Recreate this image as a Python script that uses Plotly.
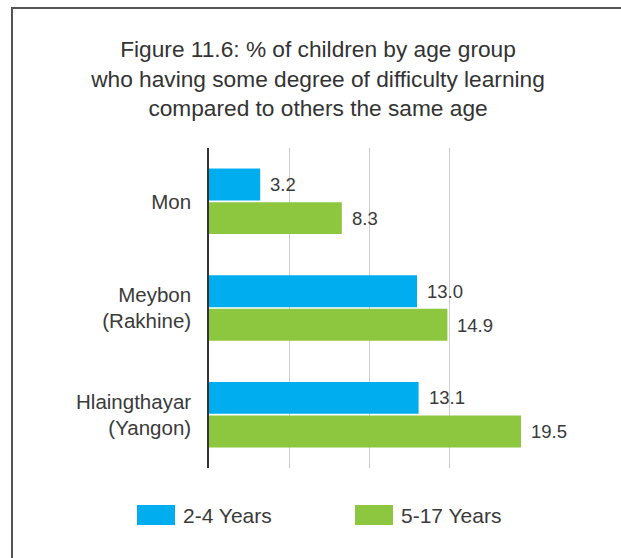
import plotly.graph_objects as go

# Data
regions = ["Mon", "Meybon<br>(Rakhine)", "Hlaingthayar<br>(Yangon)"]
age_groups = ["2-4 Years", "5-17 Years"]
pct_2_4 = [3.2, 13.0, 13.1]
pct_5_17 = [8.3, 14.9, 19.5]
x_ticks = [0, 5, 10, 15, 20]

colors = ["#00AEEF", "#8DC63F"]
series = [pct_2_4, pct_5_17]

W, H = 621, 558
ML, MR, MT, MB = 209, 92, 148, 90
PW, PH = W - ML - MR, H - MT - MB
FONT = "Liberation Sans, Arial, Helvetica, sans-serif"
TXT = "#3a3a3a"


def px_x(px):
    return (px - ML) / PW


def px_y(py):
    return 1 - (py - MT) / PH


fig = go.Figure()
for name, vals, col in zip(age_groups, series, colors):
    fig.add_trace(go.Bar(
        y=regions, x=vals, name=name, orientation="h",
        marker=dict(color=col, line=dict(width=0)),
        showlegend=False, hoverinfo="x+y",
    ))

# Value labels to the right of each bar
annotations = []
for i, (vals, col) in enumerate(zip(series, colors)):
    for j, v in enumerate(vals):
        annotations.append(dict(
            x=v, y=regions[j], xref="x", yref="y",
            text=f"{v:.1f}", showarrow=False, xanchor="left",
            xshift=8, yshift=(17 if i == 0 else -17),
            font=dict(family=FONT, size=18.5, color=TXT),
        ))

# Legend drawn as swatches + labels under the plot
shapes = []
legend_x = [137, 355]
for name, col, lx in zip(age_groups, colors, legend_x):
    shapes.append(dict(type="rect", xref="paper", yref="paper",
                       x0=px_x(lx), x1=px_x(lx + 38),
                       y0=px_y(525), y1=px_y(505),
                       fillcolor=col, line=dict(width=0)))
    annotations.append(dict(x=px_x(lx + 44), y=px_y(515), xref="paper", yref="paper",
                            text=name, showarrow=False, xanchor="left", yanchor="middle",
                            font=dict(family=FONT, size=21, color=TXT)))

# Outer frame (left and top edges)
shapes.append(dict(type="line", xref="paper", yref="paper",
                   x0=px_x(12), x1=px_x(12), y0=px_y(8), y1=px_y(H + 5),
                   line=dict(color="#555555", width=2)))
shapes.append(dict(type="line", xref="paper", yref="paper",
                   x0=px_x(11), x1=px_x(W + 5), y0=px_y(8), y1=px_y(8),
                   line=dict(color="#555555", width=2)))

fig.update_layout(
    width=W, height=H,
    margin=dict(l=ML, r=MR, t=MT, b=MB, pad=0),
    paper_bgcolor="white", plot_bgcolor="white",
    barmode="group", bargap=0.37, bargroupgap=0.05,
    title=dict(
        text="Figure 11.6: % of children by age group<br>"
             "who having some degree of difficulty learning<br>"
             "compared to others the same age",
        x=318 / W, xanchor="center", y=1 - 57 / H, yanchor="top", yref="container",
        font=dict(family=FONT, size=22.7, color="#333333"),
    ),
    xaxis=dict(range=[0, 20], tickvals=x_ticks, showticklabels=False,
               showgrid=True, gridcolor="#cccccc", gridwidth=1,
               zeroline=False, showline=False, fixedrange=True),
    yaxis=dict(autorange="reversed", showgrid=False, zeroline=False,
               showline=True, linecolor="#333333", linewidth=1.5,
               ticks="", ticklabelstandoff=12,
               tickfont=dict(family=FONT, size=20.5, color=TXT)),
    shapes=shapes,
    annotations=annotations,
)

fig.write_html("out.html")
